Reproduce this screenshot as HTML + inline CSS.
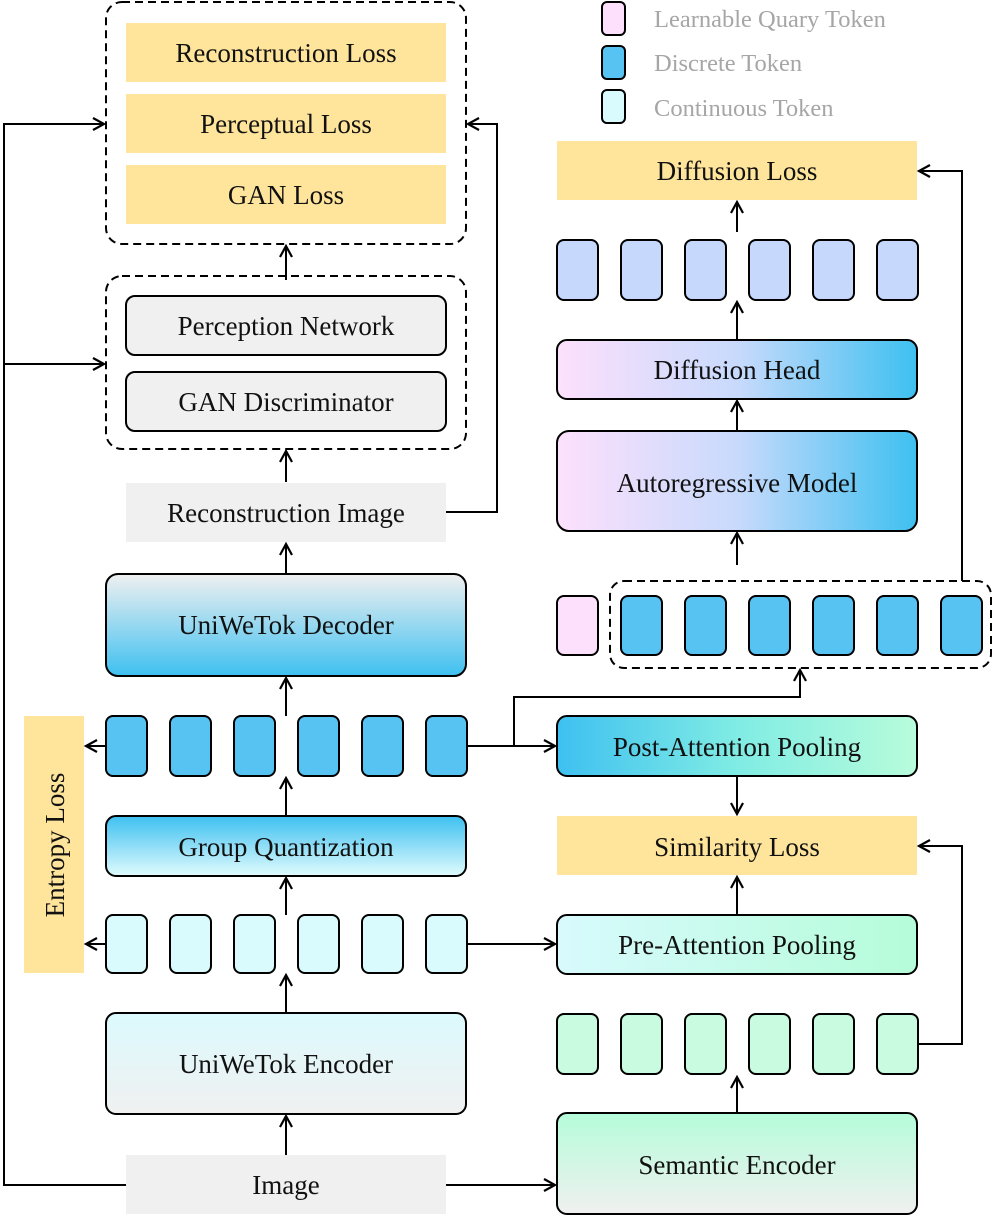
<!DOCTYPE html>
<html><head><meta charset="utf-8"><style>
html,body{margin:0;padding:0;background:#fff;}
svg{display:block;}
text{font-family:"Liberation Serif",serif;font-size:27px;fill:#111;}
.lg{font-size:24.5px;fill:#a6a6a6;}
</style></head><body>
<svg width="996" height="1219" viewBox="0 0 996 1219" xmlns="http://www.w3.org/2000/svg">
<defs>
<marker id="a" markerWidth="16" markerHeight="16" refX="13" refY="8" orient="auto" markerUnits="userSpaceOnUse">
<path d="M2,2 L13,8 L2,14" fill="none" stroke="#000" stroke-width="2.2"/></marker>
<linearGradient id="dec" x1="0" y1="0" x2="0" y2="1"><stop offset="0" stop-color="#f0f0f0"/><stop offset="1" stop-color="#3ec0f0"/></linearGradient>
<linearGradient id="gq" x1="0" y1="0" x2="0" y2="1"><stop offset="0" stop-color="#3ec0f0"/><stop offset="1" stop-color="#e0fbfd"/></linearGradient>
<linearGradient id="enc" x1="0" y1="0" x2="0" y2="1"><stop offset="0" stop-color="#dcfafd"/><stop offset="1" stop-color="#f0f0f0"/></linearGradient>
<linearGradient id="sem" x1="0" y1="0" x2="0" y2="1"><stop offset="0" stop-color="#b5fcd9"/><stop offset="1" stop-color="#f0f0f0"/></linearGradient>
<linearGradient id="pre" x1="0" y1="0" x2="1" y2="0"><stop offset="0" stop-color="#d8fafd"/><stop offset="1" stop-color="#b5fcd9"/></linearGradient>
<linearGradient id="post" x1="0" y1="0" x2="1" y2="0"><stop offset="0" stop-color="#3ec0f0"/><stop offset="0.5" stop-color="#80ece4"/><stop offset="1" stop-color="#b8fcdb"/></linearGradient>
<linearGradient id="ar" x1="0" y1="0" x2="1" y2="0"><stop offset="0" stop-color="#fde0fc"/><stop offset="0.5" stop-color="#c8dafc"/><stop offset="1" stop-color="#3ec0f0"/></linearGradient>
</defs>
<g stroke="#000" stroke-width="2" fill="none">
<rect x="106" y="2" width="360" height="242" rx="16" stroke-dasharray="8,5"/>
<rect x="106" y="276" width="360" height="173" rx="16" stroke-dasharray="8,5"/>
<rect x="610" y="581" width="381" height="87" rx="14" stroke-dasharray="8,5"/>
</g>
<g fill="#ffe59b">
<rect x="126" y="23" width="320" height="59"/>
<rect x="126" y="94" width="320" height="59"/>
<rect x="126" y="165" width="320" height="59"/>
<rect x="557" y="141" width="360" height="59"/>
<rect x="557" y="816" width="360" height="59"/>
<rect x="24" y="716" width="60" height="257"/>
</g>
<g fill="#f0f0f0">
<rect x="126" y="483" width="320" height="59"/>
<rect x="126" y="1155" width="320" height="59"/>
</g>
<g stroke="#000" stroke-width="2">
<rect x="126" y="296" width="320" height="59" rx="9" fill="#f0f0f0"/>
<rect x="126" y="372" width="320" height="59" rx="9" fill="#f0f0f0"/>
<rect x="106" y="574" width="360" height="102" rx="12" fill="url(#dec)"/>
<rect x="106" y="816" width="360" height="60" rx="10" fill="url(#gq)"/>
<rect x="106" y="1013" width="360" height="101" rx="10" fill="url(#enc)"/>
<rect x="557" y="1113" width="360" height="101" rx="10" fill="url(#sem)"/>
<rect x="557" y="915" width="360" height="59" rx="10" fill="url(#pre)"/>
<rect x="557" y="716" width="360" height="60" rx="10" fill="url(#post)"/>
<rect x="557" y="431" width="360" height="100" rx="12" fill="url(#ar)"/>
<rect x="557" y="340" width="360" height="59" rx="10" fill="url(#ar)"/>
</g>
<g stroke="#000" stroke-width="2">
<g fill="#56c3f3">
<rect x="106" y="716" width="41" height="60" rx="7"/><rect x="170" y="716" width="41" height="60" rx="7"/><rect x="234" y="716" width="41" height="60" rx="7"/><rect x="298" y="716" width="41" height="60" rx="7"/><rect x="362" y="716" width="41" height="60" rx="7"/><rect x="426" y="716" width="41" height="60" rx="7"/>
<rect x="621" y="596" width="41" height="59" rx="7"/><rect x="685" y="596" width="41" height="59" rx="7"/><rect x="749" y="596" width="41" height="59" rx="7"/><rect x="813" y="596" width="41" height="59" rx="7"/><rect x="877" y="596" width="41" height="59" rx="7"/><rect x="941" y="596" width="41" height="59" rx="7"/>
<rect x="602" y="46" width="23" height="33" rx="5"/>
</g>
<g fill="#d9fbfd">
<rect x="106" y="915" width="41" height="58" rx="7"/><rect x="170" y="915" width="41" height="58" rx="7"/><rect x="234" y="915" width="41" height="58" rx="7"/><rect x="298" y="915" width="41" height="58" rx="7"/><rect x="362" y="915" width="41" height="58" rx="7"/><rect x="426" y="915" width="41" height="58" rx="7"/>
<rect x="602" y="90" width="23" height="33" rx="5"/>
</g>
<g fill="#c8fbe0">
<rect x="557" y="1014" width="41" height="60" rx="7"/><rect x="621" y="1014" width="41" height="60" rx="7"/><rect x="685" y="1014" width="41" height="60" rx="7"/><rect x="749" y="1014" width="41" height="60" rx="7"/><rect x="813" y="1014" width="41" height="60" rx="7"/><rect x="877" y="1014" width="41" height="60" rx="7"/>
</g>
<g fill="#c6d9fd">
<rect x="557" y="240" width="41" height="60" rx="7"/><rect x="621" y="240" width="41" height="60" rx="7"/><rect x="685" y="240" width="41" height="60" rx="7"/><rect x="749" y="240" width="41" height="60" rx="7"/><rect x="813" y="240" width="41" height="60" rx="7"/><rect x="877" y="240" width="41" height="60" rx="7"/>
</g>
<g fill="#fde0fc">
<rect x="557" y="596" width="41" height="59" rx="7"/>
<rect x="602" y="2" width="23" height="33" rx="5"/>
</g>
</g>
<g stroke="#000" stroke-width="2" fill="none" marker-end="url(#a)">
<line x1="286" y1="280" x2="286" y2="246"/>
<line x1="286" y1="482" x2="286" y2="451"/>
<line x1="286" y1="574" x2="286" y2="544"/>
<line x1="286" y1="716" x2="286" y2="678"/>
<line x1="286" y1="816" x2="286" y2="778"/>
<line x1="286" y1="915" x2="286" y2="878"/>
<line x1="286" y1="1013" x2="286" y2="975"/>
<line x1="286" y1="1155" x2="286" y2="1116"/>
<line x1="106" y1="746" x2="86" y2="746"/>
<line x1="106" y1="944" x2="86" y2="944"/>
<polyline points="446,512 497,512 497,124 468,124"/>
<polyline points="126,1185 4,1185 4,124 104,124"/>
<line x1="4" y1="364" x2="104" y2="364"/>
<line x1="446" y1="1185" x2="555" y2="1185"/>
<line x1="466" y1="944" x2="555" y2="944"/>
<line x1="466" y1="746" x2="555" y2="746"/>
<polyline points="514,746 514,697 800,697 800,670"/>
<polyline points="962,581 962,171 919,171"/>
<polyline points="917,1044 962,1044 962,846 919,846"/>
<line x1="737" y1="1113" x2="737" y2="1077"/>
<line x1="737" y1="915" x2="737" y2="877"/>
<line x1="737" y1="776" x2="737" y2="814"/>
<line x1="737" y1="565" x2="737" y2="533"/>
<line x1="737" y1="431" x2="737" y2="401"/>
<line x1="737" y1="340" x2="737" y2="302"/>
<line x1="737" y1="232" x2="737" y2="202"/>
</g>
<g text-anchor="middle">
<text x="286" y="62">Reconstruction Loss</text>
<text x="286" y="133">Perceptual Loss</text>
<text x="286" y="204">GAN Loss</text>
<text x="286" y="335">Perception Network</text>
<text x="286" y="411">GAN Discriminator</text>
<text x="286" y="522">Reconstruction Image</text>
<text x="286" y="634">UniWeTok Decoder</text>
<text x="286" y="856">Group Quantization</text>
<text x="286" y="1073">UniWeTok Encoder</text>
<text x="286" y="1194">Image</text>
<text x="737" y="1174">Semantic Encoder</text>
<text x="737" y="954">Pre-Attention Pooling</text>
<text x="737" y="856">Similarity Loss</text>
<text x="737" y="756">Post-Attention Pooling</text>
<text x="737" y="492">Autoregressive Model</text>
<text x="737" y="379">Diffusion Head</text>
<text x="737" y="180">Diffusion Loss</text>
<text x="0" y="0" transform="translate(64,845) rotate(-90)">Entropy Loss</text>
</g>
<text class="lg" x="654" y="27">Learnable Quary Token</text>
<text class="lg" x="654" y="71">Discrete Token</text>
<text class="lg" x="654" y="116">Continuous Token</text>
</svg>
</body></html>
